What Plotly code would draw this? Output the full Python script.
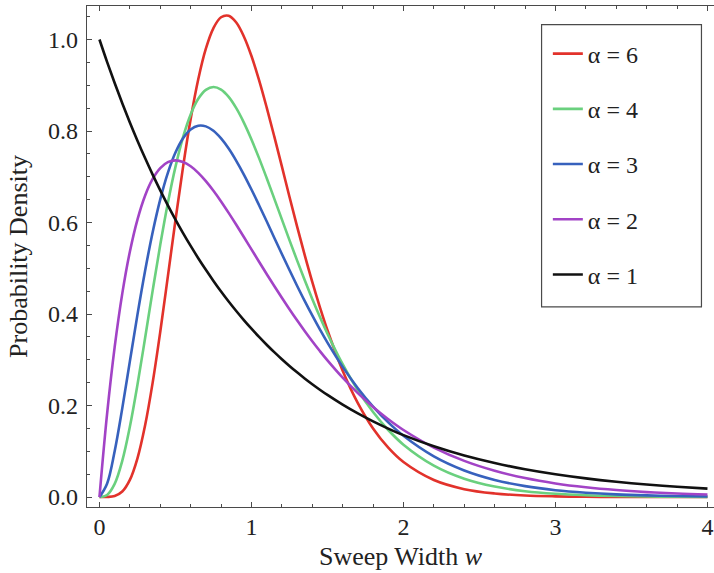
import plotly.graph_objects as go

# sample points along the sweep width axis (denser where the peaks are)
w = [0, 0.05, 0.1, 0.15, 0.2, 0.25, 0.3, 0.35, 0.4, 0.45, 0.5, 0.55, 0.6,
     0.65, 0.7, 0.75, 0.8, 0.85, 0.9, 0.95, 1.0, 1.05, 1.1, 1.15, 1.2,
     1.25, 1.3, 1.35, 1.4, 1.45, 1.5,
     1.6, 1.7, 1.8, 1.9, 2.0,
     2.2, 2.4, 2.6, 2.8, 3.0, 3.2, 3.4, 3.6, 3.8, 4.0]

# density at the points above
alpha6 = [0, 0.0001, 0.0021, 0.0120, 0.0375, 0.0847, 0.1562, 0.2501, 0.3612,
          0.4822, 0.6049, 0.7217, 0.8261, 0.9132, 0.9800, 1.0250, 1.0486,
          1.0518, 1.0370, 1.0066, 0.9638, 0.9112, 0.8516, 0.7881, 0.7227,
          0.6562, 0.5915, 0.5292, 0.4702, 0.4152, 0.3644,
          0.2761, 0.2052, 0.1498, 0.1078, 0.0764,
          0.0371, 0.0172, 0.0078, 0.0033, 0.0014, 0.0006, 0.0002, 0.0001, 0.0000, 0.0000]
alpha4 = [0, 0.0044, 0.0286, 0.0790, 0.1534, 0.2453, 0.3470, 0.4511, 0.5513,
          0.6427, 0.7216, 0.7866, 0.8361, 0.8703, 0.8899, 0.8962, 0.8905,
          0.8745, 0.8499, 0.8184, 0.7815, 0.7407, 0.6972, 0.6523, 0.6068,
          0.5615, 0.5172, 0.4742, 0.4330, 0.3939, 0.3570,
          0.2905, 0.2335, 0.1859, 0.1465, 0.1144,
          0.0686, 0.0399, 0.0228, 0.0128, 0.0071, 0.0039, 0.0021, 0.0011, 0.0006, 0.0003]
alpha3 = [0, 0.0290, 0.1000, 0.1937, 0.2964, 0.3986, 0.4940, 0.5787, 0.6506,
          0.7086, 0.7530, 0.7843, 0.8034, 0.8115, 0.8101, 0.8004, 0.7837,
          0.7616, 0.7348, 0.7048, 0.6721, 0.6378, 0.6028, 0.5668, 0.5311,
          0.4961, 0.4618, 0.4286, 0.3968, 0.3664, 0.3374,
          0.2844, 0.2379, 0.1976, 0.1631, 0.1339,
          0.0889, 0.0581, 0.0374, 0.0238, 0.0149, 0.0094, 0.0058, 0.0036, 0.0022, 0.0013]
alpha2 = [0, 0.1810, 0.3275, 0.4445, 0.5362, 0.6065, 0.6586, 0.6952, 0.7189,
          0.7318, 0.7358, 0.7323, 0.7229, 0.7086, 0.6905, 0.6694, 0.6461,
          0.6211, 0.5951, 0.5684, 0.5413, 0.5143, 0.4875, 0.4612, 0.4355,
          0.4104, 0.3862, 0.3629, 0.3405, 0.3191, 0.2987,
          0.2609, 0.2270, 0.1967, 0.1700, 0.1465,
          0.1080, 0.0790, 0.0574, 0.0414, 0.0297, 0.0213, 0.0152, 0.0108, 0.0076, 0.0054]
alpha1 = [1.0, 0.9512, 0.9048, 0.8607, 0.8187, 0.7788, 0.7408, 0.7047, 0.6703,
          0.6376, 0.6065, 0.5769, 0.5488, 0.5220, 0.4966, 0.4724, 0.4493,
          0.4274, 0.4066, 0.3867, 0.3679, 0.3499, 0.3329, 0.3166, 0.3012,
          0.2865, 0.2725, 0.2592, 0.2466, 0.2346, 0.2231,
          0.2019, 0.1827, 0.1653, 0.1496, 0.1353,
          0.1108, 0.0907, 0.0743, 0.0608, 0.0498, 0.0408, 0.0334, 0.0273, 0.0224, 0.0183]

series = [
    ("α = 6", alpha6, "#e2322b"),
    ("α = 4", alpha4, "#6ad07e"),
    ("α = 3", alpha3, "#3761bd"),
    ("α = 2", alpha2, "#a243c6"),
    ("α = 1", alpha1, "#111111"),
]

FONT = "Liberation Serif, Times New Roman, serif"
AXIS_COLOR = "#4a4a4a"
TEXT_COLOR = "#222222"

fig = go.Figure()
for i, (name, ys, color) in enumerate(series):
    fig.add_trace(
        go.Scatter(
            x=w,
            y=ys,
            mode="lines",
            name=name,
            legendgroup=name,
            legendrank=i,
            line=dict(color=color, width=2.6, shape="spline", smoothing=1.0),
        )
    )

# legend frame
fig.add_shape(
    type="rect", xref="paper", yref="paper",
    x0=0.725, x1=0.980, y0=0.3994, y1=0.963,
    line=dict(color=AXIS_COLOR, width=1.2), fillcolor="white", layer="below",
)

# x axis title, placed by hand to sit tight under the tick labels
fig.add_annotation(
    text="Sweep Width <i>w</i>", xref="paper", yref="paper",
    x=0.5, y=-0.099, xanchor="center", yanchor="middle",
    showarrow=False, font=dict(family=FONT, size=26, color=TEXT_COLOR),
)

fig.update_layout(
    width=714,
    height=573,
    margin=dict(l=87, r=0, t=6, b=66),
    paper_bgcolor="white",
    plot_bgcolor="white",
    font=dict(family=FONT, size=24, color=TEXT_COLOR),
    showlegend=True,
    legend=dict(
        x=0.735, y=0.949, xanchor="left", yanchor="top",
        bgcolor="rgba(0,0,0,0)", borderwidth=0,
        tracegroupgap=21, traceorder="grouped",
        font=dict(family=FONT, size=24, color=TEXT_COLOR),
    ),
    xaxis=dict(
        range=[-0.082, 4.043],
        tickvals=[0, 1, 2, 3, 4],
        tickformat="d",
        ticks="inside", ticklen=5, tickwidth=1, tickcolor=AXIS_COLOR,
        minor=dict(dtick=0.2, ticks="inside", ticklen=3, tickcolor=AXIS_COLOR),
        showline=True, linecolor=AXIS_COLOR, linewidth=1.2,
        mirror="ticks", showgrid=False, zeroline=False,
        ticklabelstandoff=-2,
    ),
    yaxis=dict(
        range=[-0.0218, 1.0732],
        tickvals=[0, 0.2, 0.4, 0.6, 0.8, 1.0],
        tickformat=".1f",
        ticks="inside", ticklen=5, tickwidth=1, tickcolor=AXIS_COLOR,
        minor=dict(dtick=0.05, ticks="inside", ticklen=3, tickcolor=AXIS_COLOR),
        showline=True, linecolor=AXIS_COLOR, linewidth=1.2,
        mirror=False, showgrid=False, zeroline=False,
        ticklabelstandoff=3,
        title=dict(text="Probability Density", standoff=12,
                   font=dict(family=FONT, size=26)),
    ),
)

# the page's default body margin would shift the figure by 8px
fig.write_html(
    "out.html",
    config={"displayModeBar": False},
    post_script="document.body.style.margin = '0';",
)
